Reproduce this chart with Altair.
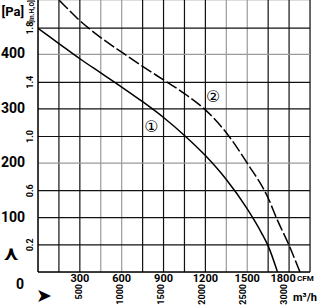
import altair as alt
import pandas as pd

# ---- data ----
curve1_cfm = [0, 150, 300, 450, 600, 750, 900, 1050, 1200, 1350, 1500, 1600, 1650, 1717]
curve1_pa = [448, 420, 392, 366, 340, 313, 284, 251, 214, 170, 116, 73, 48, 0]
curve2_cfm = [0, 150, 300, 450, 600, 750, 900, 1050, 1200, 1350, 1500, 1650, 1710, 1800, 1878]
curve2_pa = [538, 500, 462, 431, 404, 378, 353, 328, 298, 256, 200, 136, 99, 49, 0]

cfm_ticks = [300, 600, 900, 1200, 1500, 1800]
m3h_ticks = [500, 1000, 1500, 2000, 2500, 3000]
pa_ticks = [100, 200, 300, 400]
inh2o_ticks = [0.2, 0.6, 1.0, 1.4, 1.8]

grid_x = [150, 300, 450, 600, 750, 900, 1050, 1200, 1350, 1500, 1650, 1800, 1950]
grid_x_grey = [450, 600, 1350, 1500]
grid_y_grey = [400, 200, 448.2, 149.4]

X_MAX, Y_MAX = 1950, 500
PA_PER_INH2O = 249.09
M3H_PER_CFM = 1.699

FONT = "Roboto"

xs = alt.Scale(domain=[0, X_MAX], nice=False, zero=False)
ys = alt.Scale(domain=[0, Y_MAX], nice=False, zero=False)

df1 = pd.DataFrame({"cfm": curve1_cfm, "pa": curve1_pa})
df2 = pd.DataFrame({"cfm": curve2_cfm, "pa": curve2_pa})

gx = pd.DataFrame({"v": grid_x})
gx["tone"] = ["grey" if v in grid_x_grey else "black" for v in grid_x]
gy_vals = pa_ticks + [round(v * PA_PER_INH2O, 1) for v in inh2o_ticks]
gy = pd.DataFrame({"v": gy_vals})
gy["tone"] = ["grey" if v in grid_y_grey else "black" for v in gy_vals]

tone = alt.Scale(domain=["grey", "black"], range=["#9a9a9a", "#111111"])

vgrid = alt.Chart(gx).mark_rule(strokeWidth=1.2).encode(
    x=alt.X("v:Q", scale=xs, axis=None),
    y=alt.value(0), y2=alt.value(272),
    color=alt.Color("tone:N", scale=tone, legend=None),
)
hgrid = alt.Chart(gy).mark_rule(strokeWidth=1.2).encode(
    y=alt.Y("v:Q", scale=ys, axis=None),
    x=alt.value(0), x2=alt.value(272),
    color=alt.Color("tone:N", scale=tone, legend=None),
)
axes = alt.Chart(pd.DataFrame({"a": [0]})).mark_rule(color="#000", strokeWidth=1.5).encode(
    x=alt.value(0), x2=alt.value(0), y=alt.value(0), y2=alt.value(272)
) + alt.Chart(pd.DataFrame({"a": [0]})).mark_rule(color="#000", strokeWidth=1.5).encode(
    x=alt.value(0), x2=alt.value(272), y=alt.value(272), y2=alt.value(272)
)

line1 = alt.Chart(df1).mark_line(color="#000", strokeWidth=1.5, interpolate="monotone", clip=True).encode(
    x=alt.X("cfm:Q", scale=xs, axis=None), y=alt.Y("pa:Q", scale=ys, axis=None)
)
line2 = alt.Chart(df2).mark_line(color="#000", strokeWidth=1.5, interpolate="monotone",
                                 strokeDash=[12, 3], clip=True).encode(
    x=alt.X("cfm:Q", scale=xs, axis=None), y=alt.Y("pa:Q", scale=ys, axis=None)
)

# tick labels
cfm_df = pd.DataFrame({"v": cfm_ticks, "t": [str(v) for v in cfm_ticks]})
cfm_lab = alt.Chart(cfm_df).transform_calculate(
    dxv="datum.v == 1800 ? -6 : 0"
).transform_calculate(
    xv="datum.v + datum.dxv * 1950 / 272"
).mark_text(font=FONT, fontWeight="bold", fontSize=11, baseline="middle").encode(
    x=alt.X("xv:Q", scale=xs, axis=None), y=alt.value(279), text="t:N"
)
m3_df = pd.DataFrame({"v": [m / M3H_PER_CFM for m in m3h_ticks], "t": [str(m) for m in m3h_ticks]})
m3_lab = alt.Chart(m3_df).mark_text(font=FONT, fontWeight="bold", fontSize=9, angle=270,
                                    align="right", baseline="middle").encode(
    x=alt.X("v:Q", scale=xs, axis=None), y=alt.value(284), text="t:N"
)
pa_df = pd.DataFrame({"v": pa_ticks, "t": [str(v) for v in pa_ticks]})
pa_lab = alt.Chart(pa_df).mark_text(font=FONT, fontWeight="bold", fontSize=14, align="right",
                                    baseline="middle").encode(
    y=alt.Y("v:Q", scale=ys, axis=None), x=alt.value(-13), text="t:N"
)
in_df = pd.DataFrame({"v": [v * PA_PER_INH2O for v in inh2o_ticks], "t": [f"{v:.1f}" for v in inh2o_ticks]})
in_lab = alt.Chart(in_df).mark_text(font=FONT, fontWeight="bold", fontSize=9, angle=270,
                                    align="center", baseline="bottom").encode(
    y=alt.Y("v:Q", scale=ys, axis=None), x=alt.value(-3), text="t:N"
)

def txt(t, x, y, size, font=FONT, **kw):
    return alt.Chart(pd.DataFrame({"t": [t]})).mark_text(
        font=font, fontWeight="bold", fontSize=size, **kw
    ).encode(x=alt.value(x), y=alt.value(y), text="t:N")

extras = [
    txt("[Pa]", -14, 12, 13, align="right", baseline="middle"),
    txt("0", -14, 285, 14, align="right", baseline="middle"),
    txt("[In.H₂O]", -3, 11.5, 6.5, angle=270, baseline="bottom"),
    txt("CFM", 259, 279, 8, align="left", baseline="middle"),
    txt("m³/h", 255, 298, 11, align="left", baseline="middle"),
    txt("⋏", -27, 254, 20, font="DejaVu Sans", baseline="middle"),
    txt("➤", 6, 296, 19, font="DejaVu Sans", baseline="middle"),
]

ann = [
    alt.Chart(pd.DataFrame({"t": ["①"], "x": [814], "y": [266]})).mark_text(fontSize=16, font="DejaVu Sans").encode(
        x=alt.X("x:Q", scale=xs, axis=None), y=alt.Y("y:Q", scale=ys, axis=None), text="t:N"),
    alt.Chart(pd.DataFrame({"t": ["②"], "x": [1256], "y": [321]})).mark_text(fontSize=16, font="DejaVu Sans").encode(
        x=alt.X("x:Q", scale=xs, axis=None), y=alt.Y("y:Q", scale=ys, axis=None), text="t:N"),
]

chart = alt.layer(
    vgrid, hgrid, axes, line1, line2, cfm_lab, m3_lab, pa_lab, in_lab, *extras, *ann
).properties(
    width=272, height=272,
    padding={"left": 38, "top": 0, "right": 7, "bottom": 33},
    autosize=alt.AutoSizeParams(type="none"),
).configure_view(stroke=None).configure(background="white")

chart.save("out.html", embed_options={"renderer": "svg", "actions": False})
